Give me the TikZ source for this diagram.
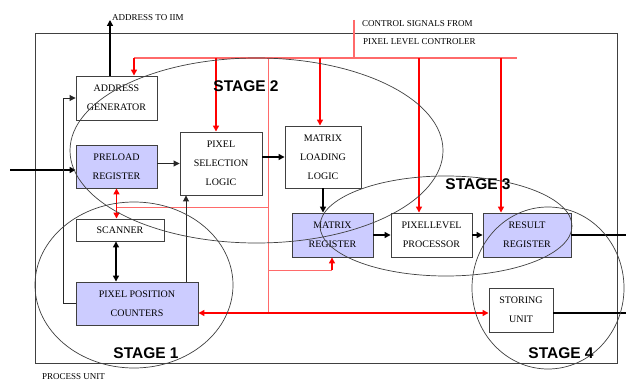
\documentclass[tikz,border=0pt]{standalone}
\usepackage{fontspec}
\setmainfont{Liberation Serif}
\newfontfamily\stagefont{Liberation Sans}
\usetikzlibrary{arrows.meta}
\definecolor{lav}{HTML}{CCCCFF}
\definecolor{bord}{HTML}{404040}
\definecolor{lred}{HTML}{FF6A6A}
\tikzset{
  box/.style={draw=bord, line width=0.9pt, fill=white, align=center, inner sep=1pt,
    font=\fontsize{10}{19}\selectfont},
  lbox/.style={box, fill=lav},
  arr/.style={draw=black, line width=1.3pt, -{Triangle[length=6pt,width=6pt]}},
  tarr/.style={draw=black!85, line width=0.9pt, -{Triangle[length=6pt,width=6pt]}},
  dblarr/.style={draw=black, line width=1.3pt, {Triangle[length=6pt,width=6pt]}-{Triangle[length=6pt,width=6pt]}},
  redarr/.style={draw=red, line width=1.4pt, -{Triangle[length=6pt,width=6pt]}},
  reddbl/.style={draw=red, line width=1.4pt, {Triangle[length=6pt,width=6pt]}-{Triangle[length=6pt,width=6pt]}},
  redbus/.style={draw=lred, line width=1.3pt},
  redthin/.style={draw=lred, line width=0.9pt},
  ell/.style={draw=black!75, line width=0.7pt},
  stagelbl/.style={font=\stagefont\bfseries\fontsize{15.5}{18}\selectfont},
  outlbl/.style={font=\fontsize{9}{11}\selectfont, anchor=west, inner sep=0pt}
}
\begin{document}
\begin{tikzpicture}[x=1pt,y=-1pt]
\useasboundingbox (0,0) rectangle (626,382);
\fill[white] (0,0) rectangle (626,382);
% outer frame
\draw[draw=bord, line width=0.9pt] (35,33) rectangle (617,363);

% boxes
\node[box, minimum width=81pt, minimum height=44pt] (ag) at (116.5,98) {ADDRESS\\GENERATOR};
\node[lbox, minimum width=81pt, minimum height=43pt] (pr) at (116.5,166.5) {PRELOAD\\REGISTER};
\node[box, minimum width=82pt, minimum height=63pt] (psl) at (221,163.5) {PIXEL\\SELECTION\\LOGIC};
\node[box, minimum width=76pt, minimum height=62pt] (mll) at (323,157) {MATRIX\\LOADING\\LOGIC};
\node[box, minimum width=88pt, minimum height=22pt] (sc) at (120,230) {SCANNER};
\node[lbox, minimum width=122pt, minimum height=43pt] (ppc) at (137,303.5) {PIXEL POSITION\\COUNTERS};
\node[lbox, minimum width=81pt, minimum height=44pt] (mr) at (332.5,235) {MATRIX\\REGISTER};
\node[box, minimum width=81pt, minimum height=44pt] (pp) at (431.5,235) {PIXELLEVEL\\PROCESSOR};
\node[lbox, minimum width=88pt, minimum height=44pt] (rr) at (527,235) {RESULT\\REGISTER};
\node[box, minimum width=64pt, minimum height=44pt] (su) at (521,310) {STORING\\UNIT};

% helper coordinates
\coordinate (ctl) at (354,20);
\coordinate (bus) at (354,58);
\coordinate (busL) at (134,58);
\coordinate (busR) at (517,58);
\coordinate (b2) at (216,58);
\coordinate (b3) at (320,58);
\coordinate (b4) at (419,58);
\coordinate (b5) at (501,58);
\coordinate (rv) at (268,58);
\coordinate (rvb) at (268,313);
\coordinate (h1) at (116.5,207);
\coordinate (m1) at (268,270);
\coordinate (m2) at (332,270);
\coordinate (c116) at (116,0);
\coordinate (c186) at (186,0);
\coordinate (in) at (10,170);
\coordinate (iim) at (110,20);
\coordinate (outR) at (626,235);
\coordinate (outS) at (626,313);

% red control lines
\draw[redbus] (ctl) -- (bus);
\draw[redbus] (busL) -- (busR);
\draw[redarr] (busL) -- (busL |- ag.north);
\draw[redarr] (b2) -- (b2 |- psl.north);
\draw[redarr] (b3) -- (b3 |- mll.north);
\draw[redarr] (b4) -- (b4 |- pp.north);
\draw[redarr] (b5) -- (b5 |- rr.north);
\draw[redthin] (rv) -- (rvb);
\draw[redthin] (h1) -- (h1 -| rv);
\draw[reddbl] (pr.south) -- (pr.south |- sc.north);
\draw[redthin] (m1) -- (m2);
\draw[redarr] (m2) -- (m2 |- mr.south);
\draw[reddbl] (rvb -| ppc.east) -- (rvb -| su.west);

% black connections
\draw[arr] (ag.north -| iim) -- (iim);
\draw[arr] (in) -- (in -| pr.west);
\draw[tarr] (ppc.west) -- ++(-12,0) |- (ag.west);
\draw[tarr] (pr.east |- psl.west) -- (psl.west);
\draw[arr] (psl.east |- mll.west) -- (mll.west);
\draw[arr] (mll.south) -- (mll.south |- mr.north);
\draw[arr] (mr.east) -- (pp.west);
\draw[arr] (pp.east) -- (rr.west);
\draw[draw=black, line width=1.3pt] (rr.east) -- (outR);
\draw[draw=black, line width=1.3pt] (su.east |- outS) -- (outS);
\draw[dblarr] (sc.south -| c116) -- (ppc.north -| c116);
\draw[tarr] (ppc.north -| c186) -- (psl.south -| c186);

% stage ellipses
\draw[ell] (256.5,150.5) ellipse [x radius=186.5pt, y radius=92.5pt];
\draw[ell] (134,285) ellipse [x radius=99pt, y radius=83pt];
\draw[ell] (446,226) ellipse [x radius=126pt, y radius=50pt];
\draw[ell] (548,288) ellipse [x radius=76pt, y radius=81pt];

% labels
\node[stagelbl] (s2) at (246,86) {STAGE 2};
\node[stagelbl] (s3) at (478,184) {STAGE 3};
\node[stagelbl] (s1) at (146,353) {STAGE 1};
\node[stagelbl] (s4) at (561,353) {STAGE 4};
\node[outlbl] (liim) at (112,18) {ADDRESS TO IIM};
\node[outlbl] (lc1) at (362,24) {CONTROL SIGNALS FROM};
\node[outlbl] (lc2) at (363,42) {PIXEL LEVEL CONTROLER};
\node[outlbl, anchor=base west] (lpu) at (42,379.5) {PROCESS UNIT};
\end{tikzpicture}
\end{document}
